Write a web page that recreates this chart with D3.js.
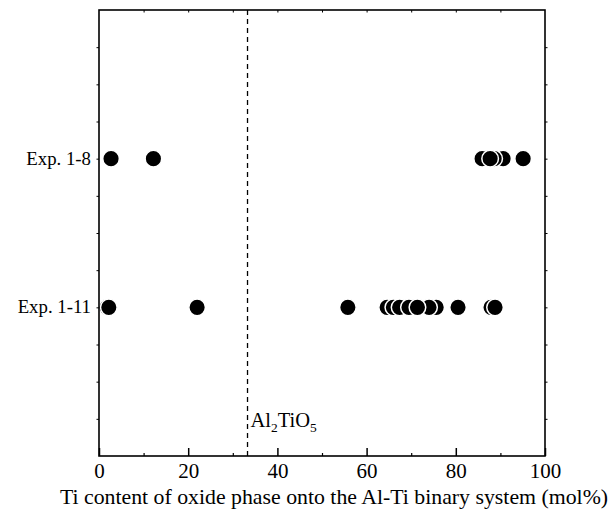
<!DOCTYPE html>
<html>
<head>
<meta charset="utf-8">
<script src="https://cdn.jsdelivr.net/npm/d3@7"></script>
<style>
  html, body { margin: 0; padding: 0; background: #fff; }
  svg { display: block; }
  text { font-family: "Liberation Serif", "Times New Roman", serif; fill: #000; }
</style>
</head>
<body>
<svg id="chart" width="613" height="515"></svg>
<script>
// Experiment rows and their vertical slot on the 0–12 frame
const experiments = ["Exp. 1-8", "Exp. 1-11"];
const rowSlots = [8, 4];

// Ti content (mol%) of each measured oxide, in drawing order
const exp18Values = [2.7, 12.2, 85.9, 90.6, 88.6, 87.7, 95.1];
const exp111Values = [1.8, 2.2, 22.0, 55.8, 64.6, 66.0, 67.4, 69.5, 75.6, 74.0, 71.4, 80.5, 87.9, 88.8];

// Al2TiO5 composition marker
const al2tio5 = 33.3;

const xTicks = [0, 20, 40, 60, 80, 100];
const xMinorTicks = [10, 30, 50, 70, 90];
const xTopTicks = [10, 20, 30, 40, 50, 60, 70, 80, 90];
const yTicks = [1, 2, 3, 4, 5, 6, 7, 8, 9, 10, 11];

const svg = d3.select("#chart");
const m = { left: 99, right: 545, top: 10, bottom: 456 };

const x = d3.scaleLinear().domain([0, 100]).range([m.left, m.right]);
const y = d3.scaleLinear().domain([0, 12]).range([m.bottom, m.top]);

// Dashed line at the Al2TiO5 composition
svg.append("line")
  .attr("x1", x(al2tio5)).attr("x2", x(al2tio5))
  .attr("y1", y(12)).attr("y2", y(0))
  .attr("stroke", "#000").attr("stroke-width", 1.3)
  .attr("stroke-dasharray", "5,4");

const lbl = svg.append("text")
  .attr("x", x(al2tio5) + 3).attr("y", 427)
  .attr("font-size", 20.5);
lbl.append("tspan").text("Al");
lbl.append("tspan").attr("font-size", 13.5).attr("dy", 5).text("2");
lbl.append("tspan").attr("dy", -5).text("TiO");
lbl.append("tspan").attr("font-size", 13.5).attr("dy", 5).text("5");

// Points: black discs with a white rim
const rows = [exp18Values, exp111Values];
rows.forEach((vals, i) => {
  svg.append("g").selectAll("circle")
    .data(vals)
    .join("circle")
    .attr("cx", d => x(d))
    .attr("cy", y(rowSlots[i]))
    .attr("r", 8.3)
    .attr("fill", "#000")
    .attr("stroke", "#fff")
    .attr("stroke-width", 1.5);
});

// Row labels
svg.append("g").selectAll("text")
  .data(experiments)
  .join("text")
  .attr("x", 91)
  .attr("y", (d, i) => y(rowSlots[i]) + 6)
  .attr("text-anchor", "end")
  .attr("font-size", 18.8)
  .text(d => d);

// Bottom axis: major ticks inward with labels, minor ticks inward
const bottom = svg.append("g").attr("transform", `translate(0,${m.bottom})`);
bottom.call(d3.axisBottom(x).tickValues(xTicks).tickSizeInner(-8).tickSizeOuter(0).tickPadding(7))
  .call(g => g.select(".domain").remove())
  .call(g => g.selectAll("line").attr("stroke-width", 1.5))
  .call(g => g.selectAll("text").attr("font-size", 21).attr("font-family", "Liberation Serif, serif"));
bottom.append("g")
  .call(d3.axisBottom(x).tickValues(xMinorTicks).tickSizeInner(-3).tickSizeOuter(0).tickFormat(""))
  .call(g => g.select(".domain").remove())
  .call(g => g.selectAll("line").attr("stroke-width", 1.2));

// Top axis: small inward ticks
svg.append("g").attr("transform", `translate(0,${m.top})`)
  .call(d3.axisTop(x).tickValues(xTopTicks).tickSizeInner(-2.5).tickSizeOuter(0).tickFormat(""))
  .call(g => g.select(".domain").remove());

// Left and right axes: short outward ticks
svg.append("g").attr("transform", `translate(${m.left},0)`)
  .call(d3.axisLeft(y).tickValues(yTicks).tickSizeInner(2.5).tickSizeOuter(0).tickFormat(""))
  .call(g => g.select(".domain").remove());
svg.append("g").attr("transform", `translate(${m.right},0)`)
  .call(d3.axisRight(y).tickValues(yTicks).tickSizeInner(2.5).tickSizeOuter(0).tickFormat(""))
  .call(g => g.select(".domain").remove());

// Frame
svg.append("rect")
  .attr("x", m.left).attr("y", m.top)
  .attr("width", m.right - m.left).attr("height", m.bottom - m.top)
  .attr("fill", "none").attr("stroke", "#000").attr("stroke-width", 1.6);

// Axis title
svg.append("text")
  .attr("x", 334)
  .attr("y", 504)
  .attr("text-anchor", "middle")
  .attr("font-size", 21.8)
  .text("Ti content of oxide phase onto the Al-Ti binary system (mol%)");
</script>
</body>
</html>
